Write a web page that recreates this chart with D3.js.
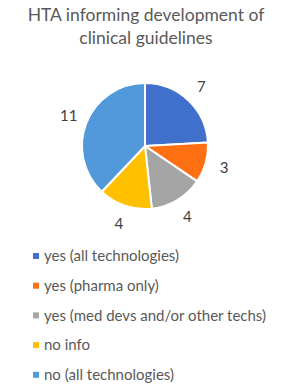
<!DOCTYPE html>
<html>
<head>
<meta charset="utf-8">
<script src="https://cdn.jsdelivr.net/npm/d3@7"></script>
<style>
  body { margin: 0; background: #fff; }
  text { font-family: Lato, "Open Sans", sans-serif; }
</style>
</head>
<body>
<div id="chart"></div>
<script>
const categories = ["yes (all technologies)", "yes (pharma only)", "yes (med devs and/or other techs)", "no info", "no (all technologies)"];
const counts = [7, 3, 4, 4, 11];
const colors = ["#4170CC", "#FF7012", "#A5A5A5", "#FFC000", "#5199DA"];
const titleLines = ["HTA informing development of", "clinical guidelines"];

const width = 295, height = 390;
const cx = 145, cy = 146, radius = 63;

const svg = d3.select("#chart").append("svg")
    .attr("width", width)
    .attr("height", height);

svg.append("rect").attr("width", width).attr("height", height).attr("fill", "#fff");

// Title
svg.append("g").selectAll("text")
    .data(titleLines)
    .join("text")
    .attr("x", 146)
    .attr("y", (d, i) => 21 + i * 23)
    .attr("text-anchor", "middle")
    .attr("font-size", 17.5)
    .attr("fill", "#595959")
    .text(d => d);

const data = categories.map((c, i) => ({cat: c, value: counts[i], color: colors[i]}));

const pie = d3.pie().value(d => d.value).sort(null);
const arcs = pie(data);
const arc = d3.arc().innerRadius(0).outerRadius(radius);
const labelArc = d3.arc().innerRadius(radius + 19).outerRadius(radius + 19);

const g = svg.append("g").attr("transform", `translate(${cx},${cy})`);

g.selectAll("path")
    .data(arcs)
    .join("path")
    .attr("d", arc)
    .attr("fill", d => d.data.color)
    .attr("stroke", "#fff")
    .attr("stroke-width", 2);

g.selectAll("text.lbl")
    .data(arcs)
    .join("text")
    .attr("class", "lbl")
    .attr("transform", d => `translate(${labelArc.centroid(d)})`)
    .attr("text-anchor", "middle")
    .attr("dy", "0.35em")
    .attr("font-size", 15)
    .attr("fill", "#404040")
    .text(d => d.data.value);

// Legend
const legend = svg.append("g").selectAll("g")
    .data(data)
    .join("g")
    .attr("transform", (d, i) => `translate(33,${256 + i * 29.7})`);

legend.append("rect")
    .attr("x", 0).attr("y", -3)
    .attr("width", 6).attr("height", 6)
    .attr("fill", d => d.color);

legend.append("text")
    .attr("x", 11)
    .attr("dy", "0.35em")
    .attr("font-size", 15)
    .attr("fill", "#595959")
    .text(d => d.cat);
</script>
</body>
</html>
